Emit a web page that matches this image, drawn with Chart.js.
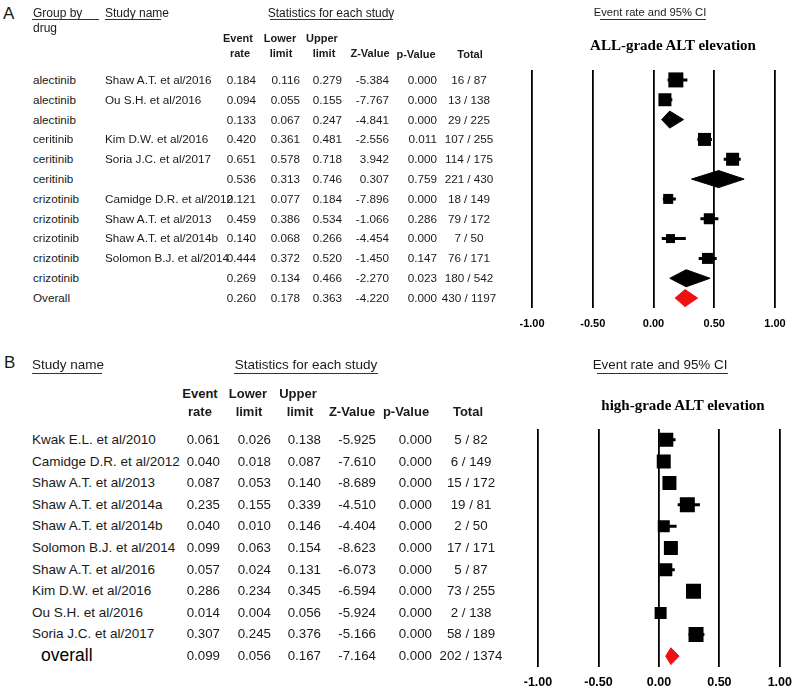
<!DOCTYPE html>
<html>
<head>
<meta charset="utf-8">
<script src="https://cdn.jsdelivr.net/npm/chart.js@4.4.1/dist/chart.umd.min.js"></script>
<style>
    body { margin: 0; background: #fff; }
    #page { position: relative; width: 800px; height: 695px; overflow: hidden; font-family: "Liberation Sans", Arial, sans-serif; color: #1a1a1a; }
    .t { position: absolute; white-space: nowrap; line-height: 20px; height: 20px; }
    .u { position: absolute; height: 0; border-top: 1px solid #333; }
    canvas { position: absolute; }
</style>
</head>
<body>
<div id="page">
    <canvas id="forestA" width="300" height="340" style="left:500px;top:0"></canvas>
    <canvas id="forestB" width="300" height="345" style="left:500px;top:350px"></canvas>
</div>
<script>
// Panel A - all-grade ALT elevation, grouped by drug
const groupA = ['alectinib', 'alectinib', 'alectinib', 'ceritinib', 'ceritinib', 'ceritinib',
    'crizotinib', 'crizotinib', 'crizotinib', 'crizotinib', 'crizotinib', 'Overall'];
const studyA = ['Shaw A.T. et al/2016', 'Ou S.H. et al/2016', '', 'Kim D.W. et al/2016', 'Soria J.C. et al/2017', '',
    'Camidge D.R. et al/2012', 'Shaw A.T. et al/2013', 'Shaw A.T. et al/2014b', 'Solomon B.J. et al/2014', '', ''];
const kindA = ['study', 'study', 'pooled', 'study', 'study', 'pooled', 'study', 'study', 'study', 'study', 'pooled', 'overall'];
const rateA = [0.184, 0.094, 0.133, 0.420, 0.651, 0.536, 0.121, 0.459, 0.140, 0.444, 0.269, 0.260];
const lowerA = [0.116, 0.055, 0.067, 0.361, 0.578, 0.313, 0.077, 0.386, 0.068, 0.372, 0.134, 0.178];
const upperA = [0.279, 0.155, 0.247, 0.481, 0.718, 0.746, 0.184, 0.534, 0.266, 0.520, 0.466, 0.363];
const zA = [-5.384, -7.767, -4.841, -2.556, 3.942, 0.307, -7.896, -1.066, -4.454, -1.450, -2.270, -4.220];
const pA = [0.000, 0.000, 0.000, 0.011, 0.000, 0.759, 0.000, 0.286, 0.000, 0.147, 0.023, 0.000];
const eventsA = [16, 13, 29, 107, 114, 221, 18, 79, 7, 76, 180, 430];
const totalA = [87, 138, 225, 255, 175, 430, 149, 172, 50, 171, 542, 1197];

// Panel B - high-grade ALT elevation
const studyB = ['Kwak E.L. et al/2010', 'Camidge D.R. et al/2012', 'Shaw A.T. et al/2013', 'Shaw A.T. et al/2014a',
    'Shaw A.T. et al/2014b', 'Solomon B.J. et al/2014', 'Shaw A.T. et al/2016', 'Kim D.W. et al/2016',
    'Ou S.H. et al/2016', 'Soria J.C. et al/2017', 'overall'];
const kindB = ['study', 'study', 'study', 'study', 'study', 'study', 'study', 'study', 'study', 'study', 'overall'];
const rateB = [0.061, 0.040, 0.087, 0.235, 0.040, 0.099, 0.057, 0.286, 0.014, 0.307, 0.099];
const lowerB = [0.026, 0.018, 0.053, 0.155, 0.010, 0.063, 0.024, 0.234, 0.004, 0.245, 0.056];
const upperB = [0.138, 0.087, 0.140, 0.339, 0.146, 0.154, 0.131, 0.345, 0.056, 0.376, 0.167];
const zB = [-5.925, -7.610, -8.689, -4.510, -4.404, -8.623, -6.073, -6.594, -5.924, -5.166, -7.164];
const pB = [0.000, 0.000, 0.000, 0.000, 0.000, 0.000, 0.000, 0.000, 0.000, 0.000, 0.000];
const eventsB = [5, 6, 15, 19, 2, 17, 5, 73, 2, 58, 202];
const totalB = [82, 149, 172, 81, 50, 171, 87, 255, 138, 189, 1374];

// axis ticks (event rate)
const xTicks = [-1, -0.5, 0, 0.5, 1];

// box sizes in px (style only, as drawn in the original)
const boxPxA = [15, 13, 0, 13, 13, 0, 10, 11, 9, 11, 0, 0];
const boxPxB = [14, 14, 14, 15, 12, 14, 13, 15, 12, 15, 0];

const RED = '#f01010';
const SANS = '"Liberation Sans", Arial, sans-serif';
const page = document.getElementById('page');

function txt(s, x, y, size, align, extra) {
    const d = document.createElement('div');
    d.className = 't';
    d.textContent = s;
    d.style.fontSize = size + 'px';
    d.style.top = (y - 10) + 'px';
    if (align === 'right') {
        d.style.left = (x - 300) + 'px';
        d.style.width = '300px';
        d.style.textAlign = 'right';
    } else if (align === 'center') {
        d.style.left = (x - 150) + 'px';
        d.style.width = '300px';
        d.style.textAlign = 'center';
    } else {
        d.style.left = x + 'px';
    }
    Object.assign(d.style, extra || {});
    page.appendChild(d);
}

function uline(x1, x2, y) {
    const d = document.createElement('div');
    d.className = 'u';
    d.style.left = x1 + 'px';
    d.style.width = (x2 - x1) + 'px';
    d.style.top = y + 'px';
    page.appendChild(d);
}

// Function to build one forest plot
function makeForest(id, o) {
    const boxData = [], boxR = [], whisker = [];
    o.kind.forEach((k, i) => {
        if (k !== 'study') return;
        boxData.push({ x: o.rate[i], y: i });
        boxR.push(o.box[i] / Math.SQRT2);
        whisker.push({ x: o.lower[i], y: i }, { x: o.upper[i], y: i }, { x: NaN, y: NaN });
    });

    const datasets = [
        { data: boxData, pointStyle: 'rect', pointRadius: boxR, backgroundColor: '#000', borderColor: '#000', borderWidth: 0 },
        { type: 'line', data: whisker, spanGaps: false, fill: false, borderColor: '#000', borderWidth: 3, pointRadius: 0 }
    ];

    // diamonds for pooled estimates
    o.kind.forEach((k, i) => {
        if (k === 'study') return;
        const c = k === 'overall' ? RED : '#000';
        datasets.push({
            type: 'line',
            data: [
                { x: o.lower[i], y: i }, { x: o.rate[i], y: i - o.dh }, { x: o.upper[i], y: i },
                { x: o.rate[i], y: i + o.dh }, { x: o.lower[i], y: i }
            ],
            fill: 'shape', backgroundColor: c, borderColor: c,
            borderWidth: 1, pointRadius: 0, tension: 0
        });
    });

    return new Chart(document.getElementById(id), {
        type: 'scatter',
        data: { datasets: datasets },
        options: {
            responsive: false,
            animation: false,
            events: [],
            layout: { padding: o.padding },
            plugins: { legend: { display: false }, tooltip: { enabled: false } },
            scales: {
                x: {
                    type: 'linear', min: xTicks[0], max: xTicks[xTicks.length - 1],
                    afterBuildTicks: s => { s.ticks = xTicks.map(v => ({ value: v })); },
                    afterFit: s => { s.height = o.axisH; },
                    ticks: {
                        callback: v => v.toFixed(2), color: '#000', padding: o.tickPad,
                        maxRotation: 0, autoSkip: false,
                        font: { family: SANS, size: o.tickSize, weight: 'bold' }
                    },
                    grid: { color: '#000', lineWidth: 1.8, drawTicks: false },
                    border: { display: false }
                },
                y: { type: 'linear', reverse: true, min: -0.5, max: o.kind.length - 0.5, display: false }
            }
        }
    });
}

// ---- Panel A text ----
txt('A', 3, 14, 17, 'left');
txt('Group by', 33, 13, 12, 'left');
uline(32, 99, 19);
txt('drug', 33, 28, 12, 'left');
txt('Study name', 105, 13, 12, 'left');
uline(105, 161, 19);
txt('Statistics for each study', 331, 13, 12, 'center');
uline(270, 393, 19);
txt('Event rate and 95% CI', 650, 12, 11.2, 'center');
uline(600, 706, 19);
txt('ALL-grade ALT elevation', 673, 45, 15, 'center', { fontFamily: '"Liberation Serif", "Times New Roman", serif', fontWeight: 'bold', color: '#000' });

const hA = { fontWeight: 'bold' };
txt('Event', 238, 38, 11, 'center', hA);
txt('rate', 240, 53, 11, 'center', hA);
txt('Lower', 280, 38, 11, 'center', hA);
txt('limit', 281, 53, 11, 'center', hA);
txt('Upper', 322, 38, 11, 'center', hA);
txt('limit', 324, 53, 11, 'center', hA);
txt('Z-Value', 370, 53, 11, 'center', hA);
txt('p-Value', 416, 54, 11, 'center', hA);
txt('Total', 470, 54, 11, 'center', hA);

rateA.forEach((r, i) => {
    const y = 80 + 19.8 * i;
    txt(groupA[i], 33, y, 11.7, 'left');
    if (studyA[i]) txt(studyA[i], 105, y, 11.7, 'left');
    txt(r.toFixed(3), 256, y, 11.7, 'right');
    txt(lowerA[i].toFixed(3), 300, y, 11.7, 'right');
    txt(upperA[i].toFixed(3), 342, y, 11.7, 'right');
    txt(zA[i].toFixed(3), 389, y, 11.7, 'right');
    txt(pA[i].toFixed(3), 437, y, 11.7, 'right');
    txt(eventsA[i] + ' / ' + totalA[i], 469, y, 11.7, 'center');
});

// ---- Panel B text ----
txt('B', 4, 363, 17, 'left');
txt('Study name', 32, 365, 13.5, 'left');
uline(32, 102, 373);
txt('Statistics for each study', 306, 365, 13.5, 'center');
uline(234, 378, 373);
txt('Event rate and 95% CI', 660, 365, 13.4, 'center');
uline(597, 728, 373);
txt('high-grade ALT elevation', 683, 405, 15, 'center', { fontFamily: '"Liberation Serif", "Times New Roman", serif', fontWeight: 'bold', color: '#000' });

const hB = { fontWeight: 'bold' };
txt('Event', 200, 394, 13, 'center', hB);
txt('rate', 200, 412, 13, 'center', hB);
txt('Lower', 248, 394, 13, 'center', hB);
txt('limit', 249, 412, 13, 'center', hB);
txt('Upper', 298, 394, 13, 'center', hB);
txt('limit', 300, 412, 13, 'center', hB);
txt('Z-Value', 352, 412, 13, 'center', hB);
txt('p-Value', 406, 412, 13, 'center', hB);
txt('Total', 468, 412, 13, 'center', hB);

rateB.forEach((r, i) => {
    const y = 440 + 21.6 * i;
    if (kindB[i] === 'overall') txt(studyB[i], 41, y - 1, 17.5, 'left', { color: '#000' });
    else txt(studyB[i], 32, y, 13.5, 'left');
    txt(r.toFixed(3), 220, y, 13.3, 'right');
    txt(lowerB[i].toFixed(3), 271, y, 13.3, 'right');
    txt(upperB[i].toFixed(3), 321, y, 13.3, 'right');
    txt(zB[i].toFixed(3), 376, y, 13.3, 'right');
    txt(pB[i].toFixed(3), 432, y, 13.3, 'right');
    txt(eventsB[i] + ' / ' + totalB[i], 471, y, 13.3, 'center');
});

// ---- Forest plots ----
makeForest('forestA', {
    kind: kindA, rate: rateA, lower: lowerA, upper: upperA, box: boxPxA, dh: 0.43,
    padding: { top: 70, left: 32, right: 25, bottom: 0 }, axisH: 32, tickPad: 9, tickSize: 11
});
makeForest('forestB', {
    kind: kindB, rate: rateB, lower: lowerB, upper: upperB, box: boxPxB, dh: 0.39,
    padding: { top: 79, left: 38, right: 16, bottom: 0 }, axisH: 28, tickPad: 8, tickSize: 12.5
});
</script>
</body>
</html>
